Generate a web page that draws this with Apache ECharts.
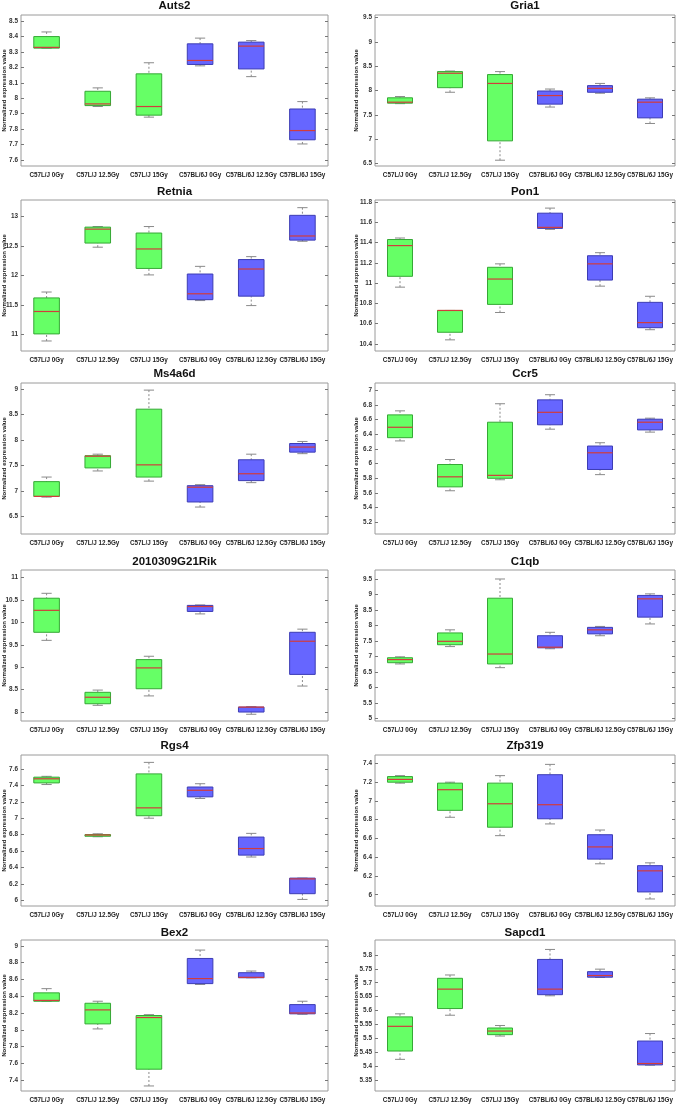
<!DOCTYPE html>
<html>
<head>
<meta charset="utf-8">
<title>Gene expression box plots</title>
<script src="https://cdn.jsdelivr.net/npm/echarts@6/dist/echarts.min.js"></script>
<style>
  html, body { margin: 0; padding: 0; background: #fff; }
  #main { width: 685px; height: 1109px; }
</style>
</head>
<body>
<div id="main"></div>
<script>
// group labels on every x axis
var groups = ['C57L/J 0Gy', 'C57L/J 12.5Gy', 'C57L/J 15Gy', 'C57BL/6J 0Gy', 'C57BL/6J 12.5Gy', 'C57BL/6J 15Gy'];

// each row: [min, q1, median, q3, max], one row per group
var auts2 = [[8.325, 8.325, 8.33, 8.40, 8.43], [7.946, 7.952, 7.963, 8.045, 8.067], [7.877, 7.89, 7.946, 8.158, 8.23],
  [8.21, 8.219, 8.245, 8.353, 8.39], [8.14, 8.19, 8.338, 8.364, 8.374], [7.703, 7.73, 7.79, 7.93, 7.978]];
var gria1 = [[7.73, 7.74, 7.76, 7.85, 7.876], [7.964, 8.058, 8.354, 8.388, 8.40], [6.569, 6.966, 8.145, 8.327, 8.388],
  [7.66, 7.72, 7.896, 7.99, 8.03], [7.944, 7.964, 8.044, 8.10, 8.145], [7.323, 7.438, 7.76, 7.822, 7.849]];
var retnia = [[10.89, 11.01, 11.39, 11.62, 11.72], [12.48, 12.55, 12.786, 12.82, 12.83], [12.01, 12.12, 12.45, 12.72, 12.83],
  [11.575, 11.59, 11.69, 12.025, 12.155], [11.49, 11.65, 12.11, 12.27, 12.32], [12.58, 12.60, 12.67, 13.02, 13.15]];
var pon1 = [[10.96, 11.067, 11.37, 11.43, 11.445], [10.44, 10.515, 10.73, 10.73, 10.73], [10.71, 10.79, 11.04, 11.156, 11.19],
  [11.53, 11.54, 11.55, 11.69, 11.74], [10.97, 11.03, 11.19, 11.27, 11.30], [10.54, 10.56, 10.61, 10.81, 10.87]];
var ms4a6d = [[6.875, 6.89, 6.89, 7.18, 7.27], [7.39, 7.45, 7.68, 7.69, 7.72], [7.19, 7.27, 7.51, 8.605, 8.98],
  [6.68, 6.78, 7.07, 7.10, 7.12], [7.16, 7.20, 7.335, 7.61, 7.72], [7.73, 7.76, 7.86, 7.93, 7.97]];
var ccr5 = [[6.31, 6.354, 6.496, 6.665, 6.72], [5.63, 5.683, 5.82, 5.988, 6.056], [5.78, 5.80, 5.84, 6.565, 6.817],
  [6.47, 6.53, 6.70, 6.87, 6.94], [5.85, 5.92, 6.148, 6.24, 6.285], [6.43, 6.46, 6.565, 6.606, 6.62]];
var rik = [[9.6, 9.78, 10.27, 10.54, 10.65], [8.15, 8.185, 8.33, 8.44, 8.49], [8.36, 8.52, 8.985, 9.17, 9.245],
  [10.19, 10.245, 10.355, 10.38, 10.39], [7.95, 8.0, 8.11, 8.11, 8.12], [8.58, 8.84, 9.58, 9.78, 9.85]];
var c1qb = [[6.76, 6.80, 6.90, 6.96, 6.99], [7.32, 7.38, 7.49, 7.76, 7.86], [6.64, 6.76, 7.08, 8.88, 9.5],
  [7.25, 7.28, 7.30, 7.67, 7.78], [7.67, 7.73, 7.86, 7.94, 7.97], [8.05, 8.27, 8.86, 8.97, 9.02]];
var rgs4 = [[7.41, 7.43, 7.48, 7.50, 7.51], [6.774, 6.78, 6.795, 6.80, 6.81], [7.0, 7.03, 7.126, 7.54, 7.68],
  [7.24, 7.26, 7.34, 7.38, 7.42], [6.527, 6.55, 6.63, 6.77, 6.815], [6.01, 6.08, 6.26, 6.27, 6.27]];
var zfp319 = [[7.19, 7.20, 7.23, 7.26, 7.27], [6.826, 6.90, 7.12, 7.19, 7.20], [6.63, 6.72, 6.97, 7.19, 7.27],
  [6.755, 6.81, 6.96, 7.28, 7.39], [6.33, 6.38, 6.51, 6.64, 6.69], [5.955, 6.03, 6.255, 6.31, 6.34]];
var bex2 = [[8.34, 8.34, 8.35, 8.44, 8.49], [8.01, 8.07, 8.237, 8.316, 8.34], [7.33, 7.53, 8.146, 8.17, 8.18],
  [8.54, 8.55, 8.61, 8.85, 8.95], [8.62, 8.62, 8.625, 8.68, 8.70], [8.185, 8.19, 8.20, 8.30, 8.34]];
var sapcd1 = [[5.424, 5.454, 5.543, 5.577, 5.588], [5.583, 5.607, 5.677, 5.716, 5.728], [5.508, 5.513, 5.526, 5.537, 5.546],
  [5.653, 5.657, 5.677, 5.784, 5.82], [5.719, 5.72, 5.726, 5.74, 5.749], [5.403, 5.404, 5.409, 5.49, 5.517]];

// y tick labels
var auts2Ticks = [7.6, 7.7, 7.8, 7.9, 8, 8.1, 8.2, 8.3, 8.4, 8.5];
var gria1Ticks = [6.5, 7, 7.5, 8, 8.5, 9, 9.5];
var retniaTicks = [11, 11.5, 12, 12.5, 13];
var pon1Ticks = [10.4, 10.6, 10.8, 11, 11.2, 11.4, 11.6, 11.8];
var ms4a6dTicks = [6.5, 7, 7.5, 8, 8.5, 9];
var ccr5Ticks = [5.2, 5.4, 5.6, 5.8, 6, 6.2, 6.4, 6.6, 6.8, 7];
var rikTicks = [8, 8.5, 9, 9.5, 10, 10.5, 11];
var c1qbTicks = [5, 5.5, 6, 6.5, 7, 7.5, 8, 8.5, 9, 9.5];
var rgs4Ticks = [6, 6.2, 6.4, 6.6, 6.8, 7, 7.2, 7.4, 7.6];
var zfp319Ticks = [6, 6.2, 6.4, 6.6, 6.8, 7, 7.2, 7.4];
var bex2Ticks = [7.4, 7.6, 7.8, 8, 8.2, 8.4, 8.6, 8.8, 9];
var sapcd1Ticks = [5.35, 5.4, 5.45, 5.5, 5.55, 5.6, 5.65, 5.7, 5.75, 5.8];

// y axis limits [min, max]
var auts2Range = [7.56, 8.54];
var gria1Range = [6.45, 9.55];
var retniaRange = [10.72, 13.28];
var pon1Range = [10.33, 11.82];
var ms4a6dRange = [6.15, 9.12];
var ccr5Range = [5.04, 7.1];
var rikRange = [7.8, 11.17];
var c1qbRange = [4.92, 9.79];
var rgs4Range = [5.93, 7.77];
var zfp319Range = [5.88, 7.49];
var bex2Range = [7.27, 9.07];
var sapcd1Range = [5.31, 5.854];

var panels = [
  ['Auts2', auts2, auts2Ticks, auts2Range], ['Gria1', gria1, gria1Ticks, gria1Range],
  ['Retnia', retnia, retniaTicks, retniaRange], ['Pon1', pon1, pon1Ticks, pon1Range],
  ['Ms4a6d', ms4a6d, ms4a6dTicks, ms4a6dRange], ['Ccr5', ccr5, ccr5Ticks, ccr5Range],
  ['2010309G21Rik', rik, rikTicks, rikRange], ['C1qb', c1qb, c1qbTicks, c1qbRange],
  ['Rgs4', rgs4, rgs4Ticks, rgs4Range], ['Zfp319', zfp319, zfp319Ticks, zfp319Range],
  ['Bex2', bex2, bex2Ticks, bex2Range], ['Sapcd1', sapcd1, sapcd1Ticks, sapcd1Range]
];

var FONT = '"Liberation Sans", Arial, sans-serif';
var rowTop = [15, 200, 383, 570, 755, 940];
var titleTop = [0, 186, 368, 556, 740, 927];
var colLeft = [21, 375];
var colWidth = [307, 300];
var colNameGap = [13.5, 16];
var plotH = 151;

function drawBox(params, api) {
  var i = api.value(0);
  var p = [1, 2, 3, 4, 5].map(function(d) { return api.coord([i, api.value(d)]); });
  var cx = p[0][0];
  var band = api.size([1, 0])[0];
  var bw = band * 0.5, cw = band * 0.2;
  var fill = i < 3 ? '#66ff66' : '#6666ff';
  var edge = i < 3 ? '#35a835' : '#3c3cb4';
  var dash = { stroke: '#8a8a8a', lineWidth: 1, lineDash: [2, 2] };
  var cap = { stroke: '#8a8a8a', lineWidth: 1 };
  return {
    type: 'group',
    children: [
      { type: 'line', shape: { x1: cx, y1: p[4][1], x2: cx, y2: p[3][1] }, style: dash },
      { type: 'line', shape: { x1: cx, y1: p[0][1], x2: cx, y2: p[1][1] }, style: dash },
      { type: 'line', shape: { x1: cx - cw / 2, y1: p[4][1], x2: cx + cw / 2, y2: p[4][1] }, style: cap },
      { type: 'line', shape: { x1: cx - cw / 2, y1: p[0][1], x2: cx + cw / 2, y2: p[0][1] }, style: cap },
      { type: 'rect', shape: { x: cx - bw / 2, y: p[3][1], width: bw, height: Math.max(p[1][1] - p[3][1], 1) },
        style: { fill: fill, stroke: edge, lineWidth: 1 } },
      { type: 'line', shape: { x1: cx - bw / 2, y1: p[2][1], x2: cx + bw / 2, y2: p[2][1] },
        style: { stroke: '#d23c3c', lineWidth: 1.2 } }
    ]
  };
}

var option = {
  animation: false,
  backgroundColor: '#fff',
  title: [], grid: [], xAxis: [], yAxis: [], series: []
};

panels.forEach(function(pn, k) {
  var col = k % 2, row = Math.floor(k / 2);
  var left = colLeft[col], w = colWidth[col];
  option.title.push({
    text: pn[0], left: left + w / 2, top: titleTop[row], textAlign: 'center', padding: 0,
    textStyle: { fontSize: 11.5, fontWeight: 'bold', fontFamily: FONT, color: '#111' }
  });
  option.grid.push({
    left: left, top: rowTop[row], width: w, height: plotH,
    show: true, borderColor: '#9a9a9a', borderWidth: 1, backgroundColor: '#fff',
    containLabel: false, outerBoundsMode: 'none'
  });
  option.xAxis.push({
    gridIndex: k, type: 'category', data: groups, boundaryGap: true,
    axisLine: { show: false }, axisTick: { show: false }, splitLine: { show: false },
    axisLabel: { interval: 0, margin: 6, fontSize: 6.3, fontWeight: 'bold', color: '#222', fontFamily: FONT }
  });
  option.yAxis.push({
    gridIndex: k, type: 'value', min: pn[3][0], max: pn[3][1],
    name: 'Normalized expression value', nameLocation: 'middle', nameGap: colNameGap[col],
    nameMoveOverlap: false,
    nameTextStyle: { fontSize: 6, fontWeight: 'bold', color: '#222', fontFamily: FONT },
    axisLine: { show: false }, splitLine: { show: false },
    axisTick: { show: true, inside: true, length: 3, customValues: pn[2], lineStyle: { color: '#777' } },
    axisLabel: { customValues: pn[2], margin: 3, fontSize: 6.4, fontWeight: 'bold', color: '#333', fontFamily: FONT }
  });
  option.yAxis.push({
    gridIndex: k, type: 'value', position: 'right', min: pn[3][0], max: pn[3][1],
    axisLine: { show: false }, splitLine: { show: false }, axisLabel: { show: false },
    axisTick: { show: true, inside: true, length: 3, customValues: pn[2], lineStyle: { color: '#777' } }
  });
  option.series.push({
    type: 'custom', name: pn[0], xAxisIndex: k, yAxisIndex: 2 * k,
    renderItem: drawBox,
    encode: { x: 0, y: [1, 2, 3, 4, 5] },
    data: pn[1].map(function(s, i) { return [i].concat(s); })
  });
});

var chart = echarts.init(document.getElementById('main'), null, { renderer: 'canvas' });
chart.setOption(option);
</script>
</body>
</html>
